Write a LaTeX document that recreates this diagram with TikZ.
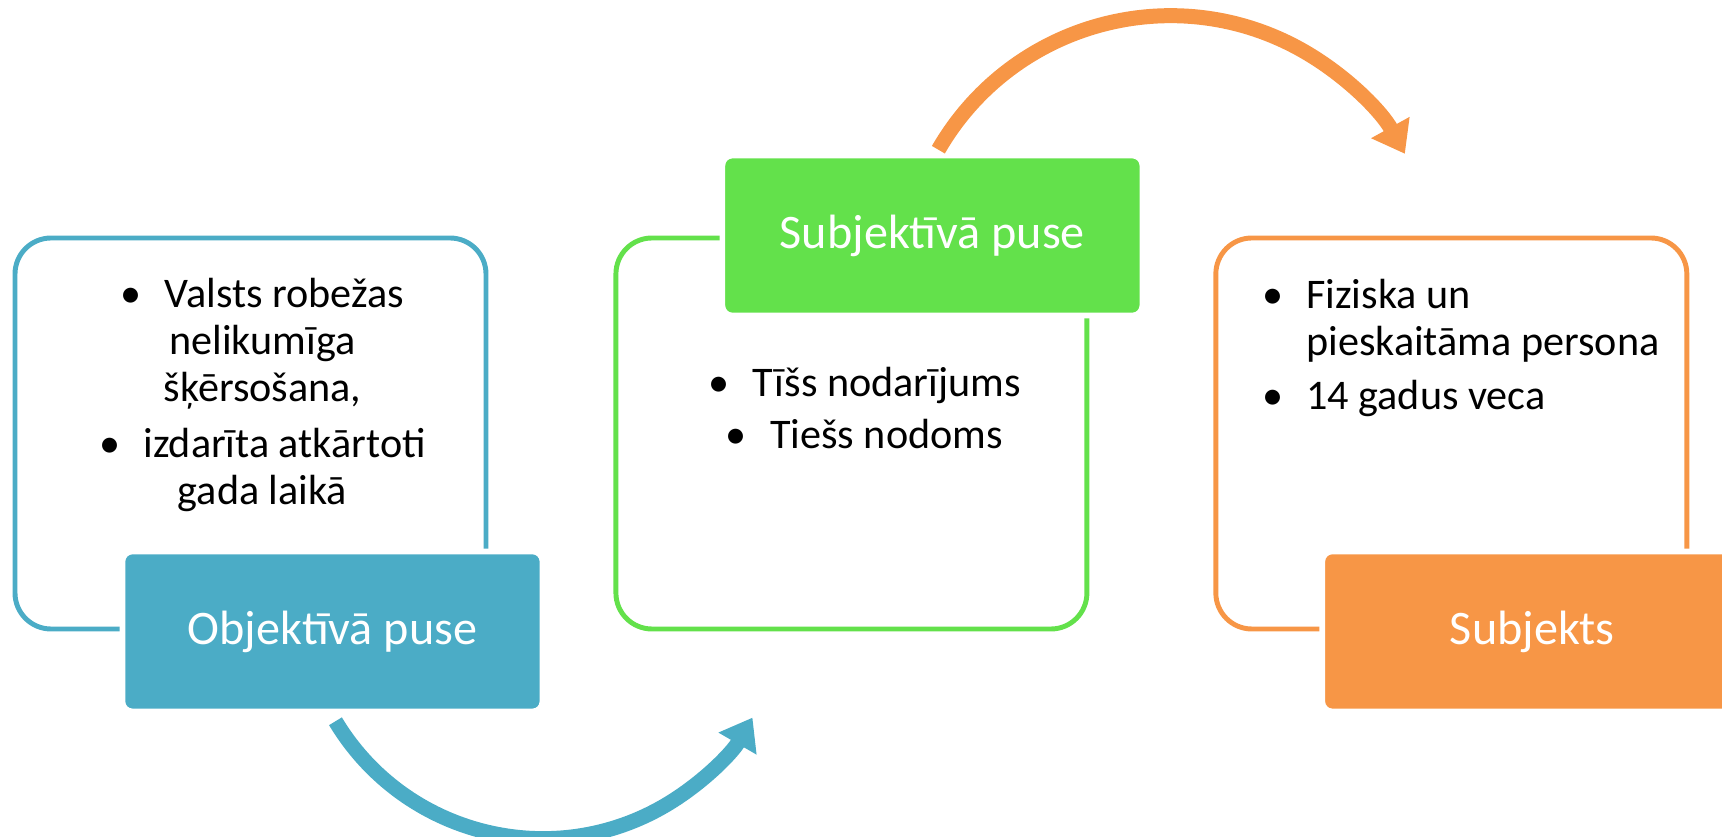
\documentclass[tikz,border=0pt]{standalone}
\usepackage{fontspec}
\setmainfont{Carlito}
\usepackage{xcolor}
\usetikzlibrary{arrows.meta, positioning}

\definecolor{cblue}{HTML}{4BACC6}
\definecolor{cgreen}{HTML}{63E14B}
\definecolor{corange}{HTML}{F79646}

\newcommand{\itm}{\textbullet\hspace{0.55em}}

\begin{document}
\begin{tikzpicture}[
        node distance=1.25cm,
        frame/.style={
            draw,
            line width=1.4pt,
            rounded corners=0.36cm,
            minimum width=4.71cm,
            minimum height=3.91cm,
            fill=white
        },
        head/.style={
            draw=white,
            line width=1.6pt,
            rounded corners=0.1cm,
            minimum width=4.2cm,
            minimum height=1.6cm,
            text=white,
            font=\fontsize{13.7}{16}\selectfont
        },
        body/.style={
            inner sep=0pt,
            font=\fontsize{12}{13.4}\selectfont
        },
        flow/.style={line width=0.15cm, -{Triangle[width=0.42cm, length=0.3cm]}}
    ]
        \useasboundingbox (0,0) rectangle (17.22,8.37);
        \clip (0,0) rectangle (17.22,8.37);

        \node[frame, draw=cblue] (objbox) at (2.505,4.035) {};
        \node[frame, draw=cgreen, right=of objbox] (subbox) {};
        \node[frame, draw=corange, right=1.24cm of subbox] (personbox) {};

        \node[head, fill=cblue] (objhead) at ([xshift=-1.56cm]objbox.south east) {Objektīvā puse};
        \node[head, fill=cgreen] (subhead) at ([xshift=-1.57cm]subbox.north east) {Subjektīvā puse};
        \node[head, fill=corange] (personhead) at ([xshift=-1.57cm]personbox.south east) {Subjekts};

        \node[body, align=center, below=0.42cm of objbox.north, xshift=0.12cm] (objtext)
            {\itm Valsts robežas\\ nelikumīga\\ šķērsošana,\\[2.5pt] \itm izdarīta atkārtoti\\ gada laikā};
        \node[body, align=center, below=1.31cm of subbox.north, xshift=0.13cm] (subtext)
            {\itm Tīšs nodarījums\\[1.5pt] \itm Tiešs nodoms};
        \node[body, align=left, anchor=north west] (persontext) at ([xshift=0.48cm, yshift=-0.43cm]personbox.north west)
            {\itm Fiziska un\\ \phantom{\itm}pieskaitāma persona\\[2pt] \itm 14 gadus veca};

        \coordinate (objout) at ([xshift=0.03cm, yshift=-0.07cm]objhead.south);
        \coordinate (subout) at ([xshift=0.06cm, yshift=0.03cm]subhead.north);
        \draw[flow, cblue] (objout) arc[start angle=211, end angle=330, radius=2.42cm];
        \draw[flow, corange] (subout) arc[start angle=150, end angle=29, radius=2.68cm];
    \end{tikzpicture}
\end{document}
